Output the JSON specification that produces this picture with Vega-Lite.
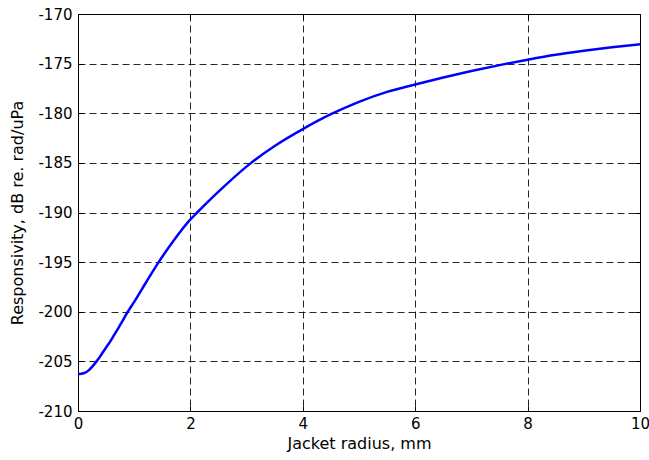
{
  "$schema": "https://vega.github.io/schema/vega-lite/v6.json",
  "width": 562,
  "height": 397,
  "autosize": "none",
  "padding": {"left": 78, "top": 14, "right": 9, "bottom": 49},
  "background": "white",
  "config": {"view": {"stroke": "black", "strokeWidth": 1}, "font": "DejaVu Sans"},
  "data": {"values": [
    {"r": 0, "dB": -206.3},
    {"r": 0.1, "dB": -206.2},
    {"r": 0.2, "dB": -205.85},
    {"r": 0.25, "dB": -205.55},
    {"r": 0.33, "dB": -205.0},
    {"r": 0.4, "dB": -204.45},
    {"r": 0.5, "dB": -203.6},
    {"r": 0.6, "dB": -202.75},
    {"r": 0.69, "dB": -201.9},
    {"r": 0.78, "dB": -201.05},
    {"r": 0.875, "dB": -200.1},
    {"r": 1.0, "dB": -199.0},
    {"r": 1.22, "dB": -196.95},
    {"r": 1.43, "dB": -195.05},
    {"r": 1.7, "dB": -192.85},
    {"r": 2.0, "dB": -190.7},
    {"r": 2.13, "dB": -189.95},
    {"r": 2.5, "dB": -187.9},
    {"r": 3.08, "dB": -185.0},
    {"r": 3.5, "dB": -183.3},
    {"r": 4.0, "dB": -181.6},
    {"r": 4.5, "dB": -180.1},
    {"r": 5.0, "dB": -178.85},
    {"r": 5.5, "dB": -177.85},
    {"r": 6.0, "dB": -177.1},
    {"r": 6.5, "dB": -176.4},
    {"r": 7.0, "dB": -175.75},
    {"r": 7.5, "dB": -175.15},
    {"r": 8.0, "dB": -174.6},
    {"r": 8.5, "dB": -174.1},
    {"r": 9.0, "dB": -173.7},
    {"r": 9.5, "dB": -173.35},
    {"r": 10.0, "dB": -173.05}
  ]},
  "layer": [
    {
      "mark": {"type": "line", "color": "#0000ff", "strokeWidth": 2.5, "interpolate": "monotone"},
      "encoding": {
        "x": {
          "field": "r", "type": "quantitative",
          "scale": {"domain": [0, 10], "nice": false, "zero": false},
          "axis": {
            "values": [0, 2, 4, 6, 8, 10],
            "labelExpr": "datum.value < 0 ? '-' + abs(datum.value) : '' + datum.value",
            "grid": true, "gridDash": [7, 4], "gridColor": "#000", "gridOpacity": 0.85, "gridWidth": 1,
            "domain": false, "tickSize": -5, "tickColor": "black", "tickWidth": 1,
            "labelPadding": 10, "labelFontSize": 15, "labelColor": "black", "labelFlush": false,
            "title": "Jacket radius, mm", "titleFontSize": 16, "titleFontWeight": "normal",
            "titleColor": "black", "titlePadding": 4
          }
        },
        "y": {
          "field": "dB", "type": "quantitative",
          "scale": {"domain": [-210, -170], "nice": false, "zero": false},
          "axis": {
            "values": [-210, -205, -200, -195, -190, -185, -180, -175, -170],
            "labelExpr": "datum.value < 0 ? '-' + abs(datum.value) : '' + datum.value",
            "grid": true, "gridDash": [7, 4], "gridColor": "#000", "gridOpacity": 0.85, "gridWidth": 1,
            "domain": false, "tickSize": -5, "tickColor": "black", "tickWidth": 1,
            "labelPadding": 11, "labelFontSize": 15, "labelColor": "black", "labelFlush": false,
            "title": "Responsivity, dB re. rad/uPa", "titleFontSize": 16, "titleFontWeight": "normal",
            "titleColor": "black", "titlePadding": 12
          }
        }
      }
    },
    {
      "mark": {"type": "line", "opacity": 0},
      "encoding": {
        "x": {
          "field": "r", "type": "quantitative",
          "axis": {"orient": "top", "values": [0, 2, 4, 6, 8, 10], "labels": false, "grid": false,
                   "domain": false, "tickSize": -5, "tickColor": "black", "title": null}
        },
        "y": {
          "field": "dB", "type": "quantitative",
          "axis": {"orient": "right", "values": [-210, -205, -200, -195, -190, -185, -180, -175, -170], "labels": false, "grid": false,
                   "domain": false, "tickSize": -5, "tickColor": "black", "title": null}
        }
      }
    }
  ],
  "resolve": {"axis": {"x": "independent", "y": "independent"}}
}
